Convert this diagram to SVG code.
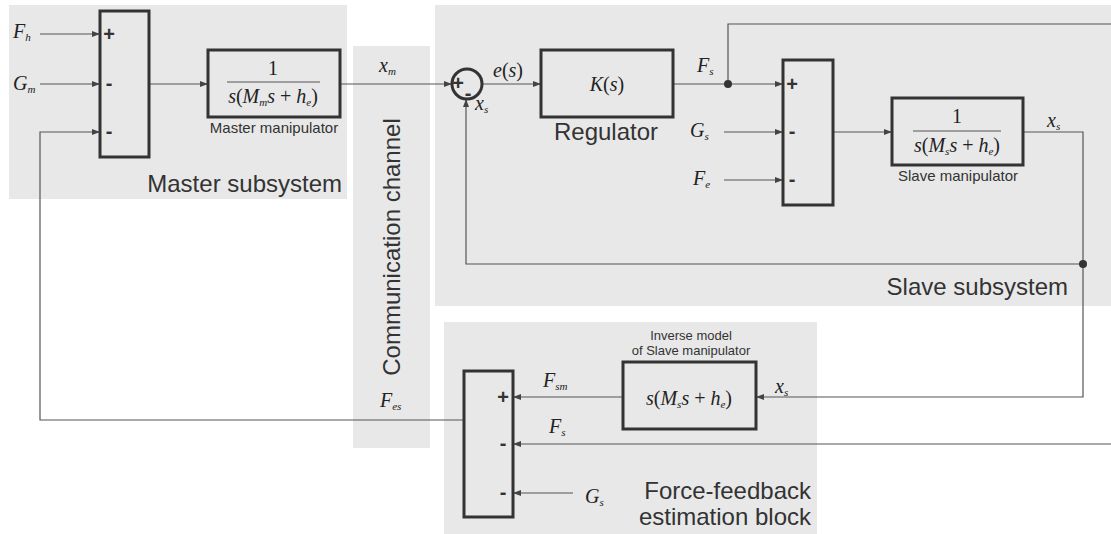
<svg xmlns="http://www.w3.org/2000/svg" width="1111" height="534" viewBox="0 0 1111 534">
<style>
.region{fill:#e8e8e8}
.blk{fill:#e8e8e8;stroke:#333;stroke-width:3}
.wire{fill:none;stroke:#555;stroke-width:1.2}
.arr{marker-end:url(#ah)}
.lbl{font-family:"Liberation Sans",Arial,sans-serif;fill:#333}
.big{font-size:24px}
.small{font-size:15px}
.tiny{font-size:13px}
.m{font-family:"Liberation Serif","Times New Roman",serif;font-style:italic;font-size:20px;fill:#222}
.up{font-style:normal}
.sub{font-size:11px}
.sign{font-family:"Liberation Sans",Arial,sans-serif;font-weight:bold;font-size:20px;fill:#333;text-anchor:middle}
.dot{fill:#333}
</style>
<defs>
<marker id="ah" markerUnits="userSpaceOnUse" markerWidth="8" markerHeight="6" refX="8" refY="3" orient="auto">
<path d="M0,0 L8,3 L0,6 z" fill="#444"/>
</marker>
</defs>

<g id="regions">
<rect class="region" x="9" y="5" width="338" height="194"/>
<rect class="region" x="353" y="46" width="77" height="402"/>
<rect class="region" x="435" y="5" width="676" height="301"/>
<rect class="region" x="444" y="322" width="373" height="212"/>
<text class="lbl big" x="342" y="192" text-anchor="end">Master subsystem</text>
<text class="lbl big" x="1068" y="295" text-anchor="end">Slave subsystem</text>
<text class="lbl big" transform="translate(400,247) rotate(-90)" text-anchor="middle">Communication channel</text>
<text class="lbl big" x="811" y="499" text-anchor="end">Force-feedback</text>
<text class="lbl big" x="811" y="525" text-anchor="end">estimation block</text>
</g>

<g id="connectors">
<path class="wire arr" d="M40,34 H100"/>
<path class="wire arr" d="M40,84 H100"/>
<path class="wire arr" d="M464,420 H40 V132 H100"/>
<path class="wire arr" d="M149,84 H208"/>
<path class="wire arr" d="M340,84 H452"/>
<path class="wire arr" d="M482,84 H541"/>
<path class="wire arr" d="M1083,264 H466 V99"/>
<path class="wire arr" d="M673,84 H783"/>
<path class="wire" d="M728,84 V24 H1111"/>
<path class="wire arr" d="M724,132 H783"/>
<path class="wire arr" d="M724,180 H783"/>
<path class="wire arr" d="M833,132 H892"/>
<path class="wire arr" d="M1023,132 H1083 V397 H756"/>
<path class="wire arr" d="M623,397 H513"/>
<path class="wire arr" d="M1111,444 H513"/>
<path class="wire arr" d="M573,493 H513"/>
<circle class="dot" cx="728" cy="84" r="4"/>
<circle class="dot" cx="1083" cy="264" r="4"/>
</g>

<g id="labels">
<text class="m" x="13" y="38">F<tspan class="sub" dy="3">h</tspan></text>
<text class="m" x="13" y="90">G<tspan class="sub" dy="3">m</tspan></text>
<text class="m" x="379" y="72">x<tspan class="sub" dy="3">m</tspan></text>
<text class="m" x="493" y="77">e<tspan class="up">(</tspan>s<tspan class="up">)</tspan></text>
<text class="m" x="475" y="110">x<tspan class="sub" dy="3">s</tspan></text>
<text class="m" x="697" y="72">F<tspan class="sub" dy="3">s</tspan></text>
<text class="m" x="690" y="137">G<tspan class="sub" dy="3">s</tspan></text>
<text class="m" x="693" y="185">F<tspan class="sub" dy="3">e</tspan></text>
<text class="m" x="1047" y="127">x<tspan class="sub" dy="3">s</tspan></text>
<text class="m" x="380" y="407">F<tspan class="sub" dy="3">es</tspan></text>
<text class="m" x="543" y="387">F<tspan class="sub" dy="3">sm</tspan></text>
<text class="m" x="549" y="433">F<tspan class="sub" dy="3">s</tspan></text>
<text class="m" x="775" y="393">x<tspan class="sub" dy="3">s</tspan></text>
<text class="m" x="585" y="503">G<tspan class="sub" dy="3">s</tspan></text>
</g>

<g id="master_sum">
<rect class="blk" x="100" y="11" width="49" height="146"/>
<text class="sign" x="109" y="41">+</text>
<text class="sign" x="109" y="90">-</text>
<text class="sign" x="109" y="138">-</text>
</g>

<g id="master_manipulator">
<rect class="blk" x="208" y="50" width="132" height="67"/>
<text class="m up" x="273" y="75" text-anchor="middle">1</text>
<line x1="227" y1="82" x2="320" y2="82" stroke="#555" stroke-width="1.2"/>
<text class="m" x="273" y="103" text-anchor="middle">s<tspan class="up">(</tspan>M<tspan class="sub" dy="3">m</tspan><tspan dy="-3">s</tspan><tspan class="up"> + </tspan>h<tspan class="sub" dy="3">e</tspan><tspan class="up" dy="-3">)</tspan></text>
<text class="lbl small" x="274" y="133" text-anchor="middle">Master manipulator</text>
</g>

<g id="sum_junction">
<circle cx="467" cy="84" r="15" fill="none" stroke="#333" stroke-width="3"/>
<text class="sign" font-size="18" x="458" y="90">+</text>
<text class="sign" font-size="18" x="468" y="100">-</text>
</g>

<g id="regulator">
<rect class="blk" x="541" y="50" width="132" height="67"/>
<text class="m" font-size="22" x="607" y="91" text-anchor="middle">K<tspan class="up">(</tspan>s<tspan class="up">)</tspan></text>
<text class="lbl big" x="606" y="140" text-anchor="middle">Regulator</text>
</g>

<g id="slave_sum">
<rect class="blk" x="783" y="60" width="50" height="145"/>
<text class="sign" x="792" y="91">+</text>
<text class="sign" x="792" y="138">-</text>
<text class="sign" x="792" y="186">-</text>
</g>

<g id="slave_manipulator">
<rect class="blk" x="892" y="98" width="131" height="67"/>
<text class="m up" x="957" y="123" text-anchor="middle">1</text>
<line x1="913" y1="131" x2="1001" y2="131" stroke="#555" stroke-width="1.2"/>
<text class="m" x="957" y="152" text-anchor="middle">s<tspan class="up">(</tspan>M<tspan class="sub" dy="3">s</tspan><tspan dy="-3">s</tspan><tspan class="up"> + </tspan>h<tspan class="sub" dy="3">e</tspan><tspan class="up" dy="-3">)</tspan></text>
<text class="lbl small" x="958" y="181" text-anchor="middle">Slave manipulator</text>
</g>

<g id="inverse_model">
<rect class="blk" x="623" y="362" width="133" height="67"/>
<text class="m" x="689" y="405" text-anchor="middle">s<tspan class="up">(</tspan>M<tspan class="sub" dy="3">s</tspan><tspan dy="-3">s</tspan><tspan class="up"> + </tspan>h<tspan class="sub" dy="3">e</tspan><tspan class="up" dy="-3">)</tspan></text>
<text class="lbl tiny" x="691" y="340" text-anchor="middle">Inverse model</text>
<text class="lbl tiny" x="691" y="355" text-anchor="middle">of Slave manipulator</text>
</g>

<g id="ff_sum">
<rect class="blk" x="464" y="371" width="49" height="146"/>
<text class="sign" x="503" y="404">+</text>
<text class="sign" x="503" y="450">-</text>
<text class="sign" x="503" y="499">-</text>
</g>
</svg>
